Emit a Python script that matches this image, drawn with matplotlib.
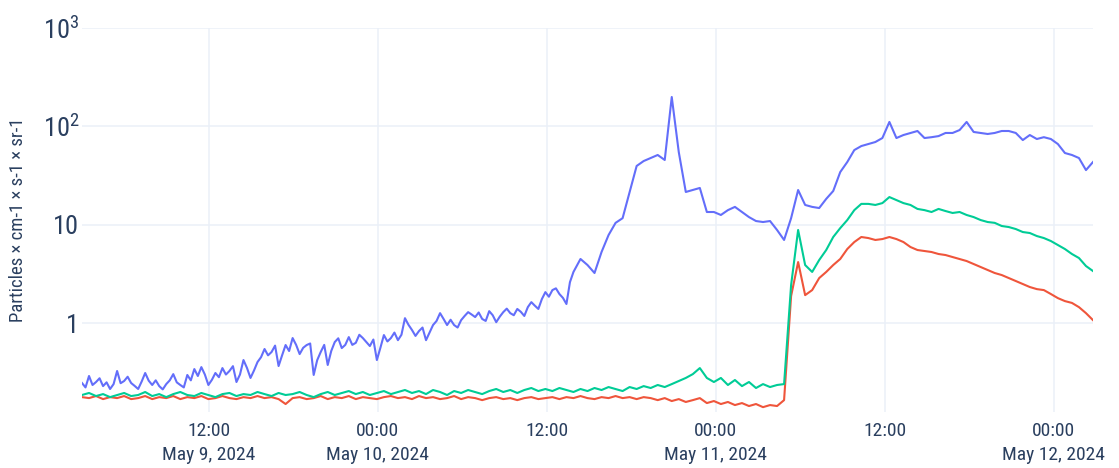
import matplotlib
matplotlib.use("Agg")
import matplotlib.pyplot as plt
import matplotlib.ticker as mticker
import pandas as pd

# ---------------- data ----------------
start_time = "2024-05-09 03:00"
end_time = "2024-05-12 02:48"
n_points = 145          # coarse sampling used by all series
n_blue_early = 141      # denser sampling of the noisy first part of the blue series

# blue: dense part (first 70 coarse steps, half-step spacing) + coarse remainder
blue_early = [
    0.246, 0.222, 0.290, 0.235, 0.252, 0.275, 0.229, 0.250, 0.214, 0.240,
    0.326, 0.245, 0.258, 0.285, 0.246, 0.230, 0.214, 0.255, 0.311, 0.260,
    0.235, 0.262, 0.229, 0.212, 0.240, 0.262, 0.303, 0.250, 0.235, 0.222,
    0.297, 0.262, 0.341, 0.290, 0.357, 0.300, 0.235, 0.265, 0.311, 0.282,
    0.349, 0.300, 0.326, 0.365, 0.252, 0.300, 0.421, 0.350, 0.277, 0.330,
    0.402, 0.450, 0.545, 0.470, 0.508, 0.590, 0.366, 0.470, 0.598, 0.520,
    0.704, 0.600, 0.484, 0.560, 0.598, 0.620, 0.297, 0.420, 0.508, 0.600,
    0.375, 0.520, 0.641, 0.700, 0.557, 0.600, 0.72, 0.600, 0.63, 0.760,
    0.704, 0.640, 0.584, 0.680, 0.421, 0.560, 0.755, 0.650, 0.704, 0.800,
    0.67, 0.760, 1.12, 0.960, 0.85, 0.740, 0.83, 0.900, 0.67, 0.800,
    0.954, 1.05, 1.26, 1.10, 0.954, 1.08, 0.954, 0.900, 1.07, 1.18,
    1.29, 1.22, 1.15, 1.28, 1.10, 1.05, 1.32, 1.20, 1.02, 1.16,
    1.29, 1.40, 1.26, 1.20, 1.39, 1.30, 1.18, 1.45, 1.63, 1.50,
    1.39, 1.75, 2.06, 1.85, 2.16, 2.25, 1.97, 1.80, 1.56, 2.60,
    3.30,
]
blue_late = [
    4.47, 3.88, 3.22, 5.26, 7.82, 10.4, 11.6, 21.4, 39.3,
    44.1, 47.3, 50.8, 45.2, 197, 54.4, 21.4, 22.4, 23.5, 13.4,
    13.4, 12.5, 14.0, 15.1, 13.4, 11.9, 10.85, 10.6, 10.85, 8.8,
    6.97, 11.6, 22.4, 15.8, 15.1, 14.7, 18.2, 21.9, 34.1, 43.1,
    57, 62.6, 65.6, 68.8, 75.5, 110, 75.5, 81, 85, 89,
    75.5, 77, 79, 85, 85, 91, 110, 87, 85, 83,
    85, 89, 89, 85, 72, 81, 73.8, 77, 73.8, 65.6,
    53.2, 50.8, 47.3, 35.7, 43.1,
]

green = [
    0.186, 0.195, 0.1815, 0.190, 0.177, 0.186, 0.195, 0.1815, 0.186, 0.1995,
    0.1815, 0.190, 0.177, 0.190, 0.1995, 0.186, 0.1815, 0.195, 0.186, 0.177,
    0.190, 0.195, 0.1815, 0.190, 0.186, 0.1995, 0.190, 0.1815, 0.195, 0.186,
    0.190, 0.1995, 0.186, 0.177, 0.190, 0.1995, 0.186, 0.195, 0.204, 0.190,
    0.1995, 0.186, 0.195, 0.204, 0.190, 0.1995, 0.209, 0.195, 0.204, 0.190,
    0.209, 0.1995, 0.186, 0.204, 0.195, 0.209, 0.1995, 0.190, 0.204, 0.214,
    0.1995, 0.209, 0.195, 0.209, 0.219, 0.204, 0.214, 0.204, 0.219, 0.209,
    0.1995, 0.214, 0.204, 0.219, 0.209, 0.224, 0.214, 0.204, 0.224, 0.214,
    0.229, 0.219, 0.235, 0.224, 0.240, 0.258, 0.277, 0.303, 0.349, 0.277,
    0.252, 0.277, 0.235, 0.264, 0.229, 0.252, 0.219, 0.240, 0.224, 0.235,
    0.240, 2.43, 8.8, 3.88, 3.30, 4.36, 5.51, 7.47, 9.2, 11.1,
    14.0, 16.2, 16.2, 15.8, 16.5, 19.0, 17.7, 16.5, 15.8, 14.4,
    14.0, 13.4, 14.4, 13.7, 13.1, 13.4, 12.5, 11.9, 11.1, 10.6,
    10.4, 9.66, 9.43, 9.0, 8.39, 8.2, 7.64, 7.29, 6.80, 6.2,
    5.64, 5.02, 4.57, 3.79, 3.37,
]

red = [
    0.177, 0.173, 0.1815, 0.169, 0.177, 0.173, 0.1815, 0.169, 0.173, 0.1815,
    0.169, 0.177, 0.173, 0.1815, 0.169, 0.177, 0.173, 0.1815, 0.169, 0.173,
    0.1815, 0.173, 0.169, 0.177, 0.173, 0.1815, 0.173, 0.177, 0.169, 0.1506,
    0.173, 0.177, 0.169, 0.173, 0.1815, 0.169, 0.177, 0.173, 0.1815, 0.169,
    0.177, 0.173, 0.169, 0.177, 0.1815, 0.173, 0.177, 0.169, 0.1815, 0.173,
    0.177, 0.169, 0.173, 0.1815, 0.169, 0.177, 0.173, 0.165, 0.173, 0.177,
    0.169, 0.173, 0.165, 0.173, 0.177, 0.169, 0.173, 0.177, 0.169, 0.177,
    0.173, 0.1815, 0.173, 0.169, 0.177, 0.173, 0.1815, 0.173, 0.177, 0.169,
    0.177, 0.173, 0.165, 0.173, 0.1615, 0.169, 0.158, 0.165, 0.173, 0.154,
    0.1615, 0.1506, 0.158, 0.147, 0.154, 0.1437, 0.1506, 0.140, 0.147, 0.1437,
    0.165, 1.88, 4.16, 1.92, 2.16, 2.86, 3.30, 3.88, 4.47, 5.64,
    6.64, 7.47, 7.29, 6.97, 7.12, 7.47, 7.12, 6.64, 5.91, 5.51,
    5.38, 5.26, 5.02, 4.90, 4.68, 4.47, 4.26, 3.97, 3.71, 3.45,
    3.22, 3.07, 2.86, 2.67, 2.49, 2.32, 2.21, 2.16, 1.97, 1.79,
    1.67, 1.60, 1.45, 1.26, 1.07,
]

x_tick_times = ["2024-05-09 12:00", "2024-05-10 00:00", "2024-05-10 12:00",
                "2024-05-11 00:00", "2024-05-11 12:00", "2024-05-12 00:00"]
x_tick_labels = ["12:00\nMay 9, 2024", "00:00\nMay 10, 2024", "12:00",
                 "00:00\nMay 11, 2024", "12:00", "00:00\nMay 12, 2024"]
y_tick_values = [1, 10, 100, 1000]
y_tick_labels = ["1", "10", r"$\mathregular{10^{2}}$", r"$\mathregular{10^{3}}$"]
y_label = "Particles × cm-1 × s-1 × sr-1"

# ---------------- style ----------------
FONT = ["Roboto Condensed", "Liberation Sans", "DejaVu Sans"]
plt.rcParams["font.family"] = FONT
plt.rcParams["mathtext.fontset"] = "custom"
plt.rcParams["mathtext.rm"] = "Roboto Condensed"
TXT = "#2a3f5f"
GRID = "#EBF0F8"

times = pd.date_range(start_time, end_time, periods=n_points)
n_coarse_early = (n_blue_early - 1) // 2
blue_times = pd.date_range(times[0], times[n_coarse_early], periods=n_blue_early).append(
    times[n_coarse_early + 1:])
blue = blue_early + blue_late

fig = plt.figure(figsize=(11.19, 4.68), dpi=100)
ax = fig.add_axes([82 / 1119, 1 - 412 / 468, 1011 / 1119, (412 - 27.5) / 468])

ax.plot(blue_times, blue, color="#636efa", lw=1.5, zorder=3)
ax.plot(times, red, color="#EF553B", lw=1.5, zorder=3)
ax.plot(times, green, color="#00cc96", lw=1.5, zorder=3)

ax.set_yscale("log")
ax.set_ylim(0.125, 1000)
ax.set_xlim(times[0], times[-1])

ax.yaxis.set_major_locator(mticker.FixedLocator(y_tick_values))
ax.yaxis.set_minor_locator(mticker.NullLocator())
ax.set_yticklabels(y_tick_labels)
ax.set_xticks(pd.to_datetime(x_tick_times))
ax.set_xticklabels(x_tick_labels, linespacing=1.45)
ax.xaxis.set_minor_locator(mticker.NullLocator())

ax.tick_params(axis="x", length=0, pad=7, labelsize=14, colors=TXT)
ax.tick_params(axis="y", length=0, pad=2, labelsize=19, colors=TXT)
for s in ax.spines.values():
    s.set_visible(False)
ax.grid(True, color=GRID, lw=1.1, zorder=0)
ax.set_axisbelow(True)

fig.text(18 / 1119, 1 - 220 / 468, y_label, rotation=90, ha="center", va="center",
         fontsize=13.5, color=TXT)

fig.savefig("out.png", dpi=100, facecolor="white")
